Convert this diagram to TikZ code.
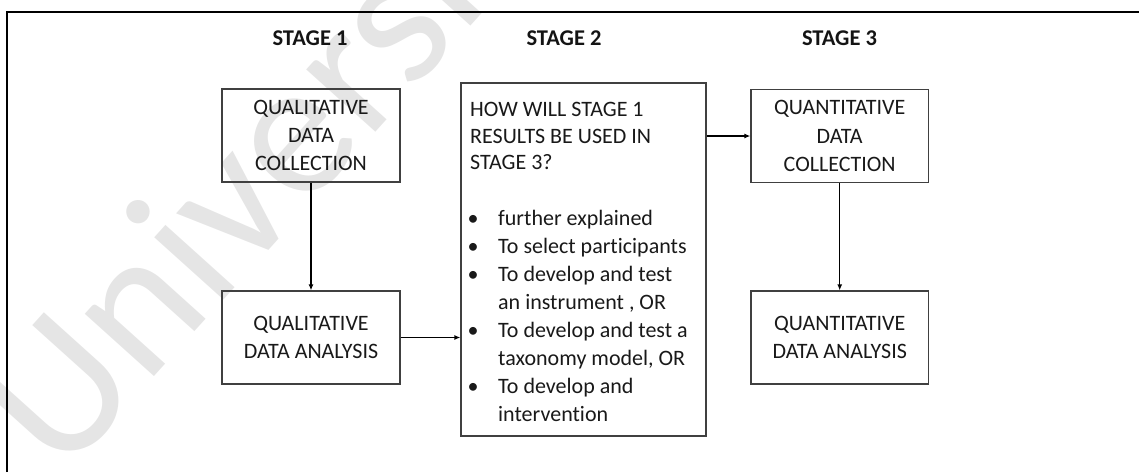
\documentclass[tikz,border=0pt]{standalone}
\usepackage{fontspec}
\setmainfont{Carlito}[Ligatures=NoCommon]
\usetikzlibrary{arrows.meta}

\begin{document}
\begin{tikzpicture}[x=1pt,y=-1pt,
  stagebox/.style={draw=black!75, line width=1.2pt, inner sep=0pt,
    minimum width=178pt, minimum height=93pt, align=center,
    font=\fontsize{22}{28.3}\selectfont, text=black!90},
  bigbox/.style={draw=black!75, line width=1.2pt, inner sep=0pt,
    minimum width=245pt, minimum height=353pt},
  heading/.style={anchor=base, inner sep=0pt, text=black!92,
    font=\fontsize{22.5}{26}\selectfont\bfseries},
  line/.style={anchor=base west, inner sep=0pt, text=black!90,
    font=\fontsize{22}{26}\selectfont},
  dot/.style={anchor=base, inner sep=0pt, text=black!90,
    font=\fontsize{22}{26}\selectfont},
  arr/.style={draw=black, line width=1.4pt,
    -{Latex[length=6pt,width=5pt]}},
  watermark/.style={anchor=base west, inner sep=0pt, text=black!10,
    font=\fontsize{195}{195}\selectfont}
]
\useasboundingbox (0,0) rectangle (1139,472);

% faint watermark behind the chart
\node[watermark, rotate=48] (wmark) at (62,480) {University};

% frame (top and left edges)
\draw[line width=2.5pt, line join=miter] (7,472) -- (7,12) -- (1139,12);

% column headings
\node[heading] (h1) at (310,45) {STAGE 1};
\node[heading] (h2) at (564,45) {STAGE 2};
\node[heading] (h3) at (839.5,45) {STAGE 3};

% stage 1
\node[stagebox] (c1) at (311,135.5) {QUALITATIVE\\DATA\\COLLECTION};
\node[stagebox] (a1) at (311,337.5) {QUALITATIVE\\DATA ANALYSIS};

% stage 3
\node[stagebox, minimum width=177.5pt] (c3) at (839.7,136) {QUANTITATIVE\\DATA\\COLLECTION};
\node[stagebox, minimum width=177.5pt] (a3) at (839.7,337.5) {QUANTITATIVE\\DATA ANALYSIS};

% stage 2
\node[bigbox] (s2) at (583.5,259.5) {};
\node[line] (q1) at (470,116.5) {HOW WILL STAGE 1};
\node[line] (q2) at (470,143) {RESULTS BE USED IN};
\node[line] (q3) at (470,169.5) {STAGE 3?};

\foreach \y/\txt/\b [count=\i] in {
  225/{further explained}/1,
  253/{To select participants}/1,
  281/{To develop and test}/1,
  309/{an instrument , OR}/0,
  337/{To develop and test a}/1,
  365/{taxonomy model, OR}/0,
  393/{To develop and}/1,
  421/{intervention}/0} {
  \node[line] (t\i) at (498,\y) {\txt};
  \ifnum\b=1 \node[dot] (b\i) at (473,\y) {•}; \fi
}

% connectors
\draw[arr] (c1) -- (a1);
\draw[arr] (a1.east) -- (a1.east -| s2.west);
\draw[arr] (c3.west -| s2.east) -- (c3.west);
\draw[arr] (c3) -- (a3);
\end{tikzpicture}
\end{document}
